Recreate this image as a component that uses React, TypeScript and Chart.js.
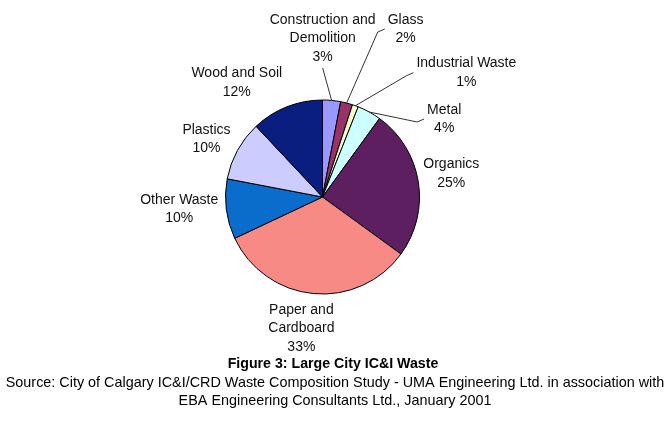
import React, { useEffect, useRef } from "react";
import { Chart, registerables } from "chart.js";

Chart.register(...registerables);

const categories = [
  "Construction and Demolition",
  "Glass",
  "Industrial Waste",
  "Metal",
  "Organics",
  "Paper and Cardboard",
  "Other Waste",
  "Plastics",
  "Wood and Soil",
];
const values = [3, 2, 1, 4, 25, 33, 10, 10, 12];
const labelLines = [
  ["Construction and", "Demolition"],
  ["Glass"],
  ["Industrial Waste"],
  ["Metal"],
  ["Organics"],
  ["Paper and", "Cardboard"],
  ["Other Waste"],
  ["Plastics"],
  ["Wood and Soil"],
];
const sliceColors = [
  "#9999FF",
  "#993366",
  "#FFFFCC",
  "#CCFFFF",
  "#5E1F60",
  "#F88A86",
  "#0A6CCB",
  "#CCCCFF",
  "#0A1E80",
];
// label block offset from the slice's outer mid point (layout only)
const labelOffsets = [
  [-9, -62],
  [59, -74],
  [111, -33],
  [75, 7],
  [33, -8],
  [-12, 35],
  [-47, 0],
  [-31, -11],
  [-50, -24],
];
// leader line style: 0 none, 1 to bottom of label, 2 to left side of label
const leaderKinds = [1, 2, 2, 2, 0, 0, 0, 0, 0];

const titleText = "Figure 3: Large City IC&I Waste";
const sourceLines = [
  "Source: City of Calgary IC&I/CRD Waste Composition Study - UMA Engineering Ltd. in association with",
  "EBA Engineering Consultants Ltd., January 2001",
];

const FONT = '"Liberation Sans", Arial, Helvetica, sans-serif';

const labelPlugin = {
  id: "pieLabels",
  afterDraw(chart: any) {
    const ctx = chart.ctx;
    const meta = chart.getDatasetMeta(0);
    const total = values.reduce((a, b) => a + b, 0);
    ctx.save();
    ctx.font = `14px ${FONT}`;
    ctx.fillStyle = "#111";
    ctx.textAlign = "center";
    ctx.textBaseline = "middle";
    const lh = 18.5;
    meta.data.forEach((arc: any, i: number) => {
      const p = arc.getProps(["x", "y", "startAngle", "endAngle", "outerRadius"], true);
      const mid = (p.startAngle + p.endAngle) / 2;
      const px = p.x + Math.cos(mid) * p.outerRadius;
      const py = p.y + Math.sin(mid) * p.outerRadius;
      const lines = [...labelLines[i], `${Math.round((values[i] / total) * 100)}%`];
      const cx = px + labelOffsets[i][0];
      const cy = py + labelOffsets[i][1];
      const top = cy - ((lines.length - 1) * lh) / 2;
      let maxW = 0;
      lines.forEach((t, k) => {
        ctx.fillText(t, cx, top + k * lh);
        maxW = Math.max(maxW, ctx.measureText(t).width);
      });
      const kind = leaderKinds[i];
      if (kind) {
        ctx.beginPath();
        ctx.strokeStyle = "#333";
        ctx.lineWidth = 1;
        ctx.moveTo(px, py);
        if (kind === 1) {
          ctx.lineTo(cx, top + (lines.length - 1) * lh + 11);
        } else {
          const ex = cx - maxW / 2 - 3;
          ctx.lineTo(ex - 7, cy + 3);
          ctx.lineTo(ex, cy);
        }
        ctx.stroke();
      }
    });

    ctx.fillStyle = "#000";
    ctx.font = `bold 14.2px ${FONT}`;
    ctx.fillText(titleText, 333, 364);
    ctx.font = `14.4px ${FONT}`;
    ctx.fillText(sourceLines[0], 335, 383);
    ctx.fillText(sourceLines[1], 335, 401);
    ctx.restore();
  },
};

export default function App() {
  const ref = useRef<HTMLCanvasElement | null>(null);
  useEffect(() => {
    if (!ref.current) return;
    const chart = new Chart(ref.current, {
      type: "pie",
      data: {
        labels: categories,
        datasets: [
          {
            data: values,
            backgroundColor: sliceColors,
            borderColor: "#000",
            borderWidth: 1,
          },
        ],
      },
      options: {
        responsive: false,
        animation: false,
        events: [],
        layout: { padding: { left: 225, top: 99, right: 252, bottom: 135 } },
        plugins: {
          legend: { display: false },
          tooltip: { enabled: false },
          title: { display: false },
        },
      },
      plugins: [labelPlugin],
    });
    return () => chart.destroy();
  }, []);
  return (
    <div style={{ position: "fixed", left: 0, top: 0, width: 672, height: 430, background: "#fff" }}>
      <canvas ref={ref} width={672} height={430} style={{ width: 672, height: 430, display: "block" }} />
    </div>
  );
}
